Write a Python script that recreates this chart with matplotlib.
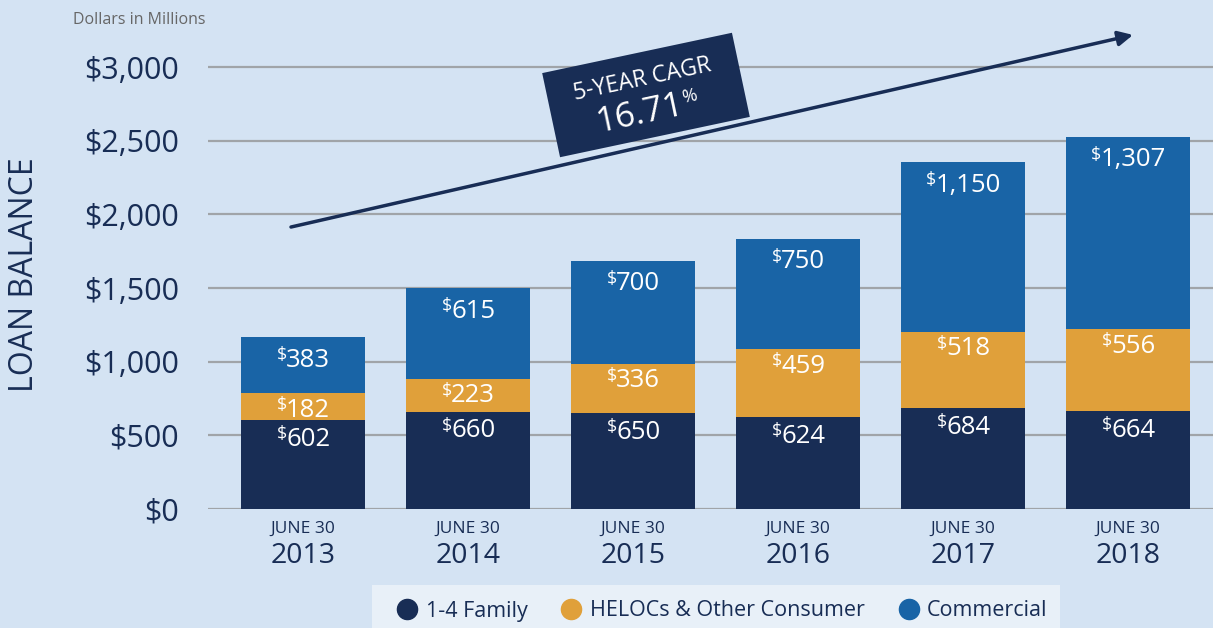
import matplotlib
matplotlib.use('Agg')
import matplotlib.pyplot as plt
from matplotlib.patches import Rectangle
from matplotlib.lines import Line2D
from matplotlib.transforms import Affine2D, IdentityTransform
import numpy as np

years = ['2013', '2014', '2015', '2016', '2017', '2018']
family = [602, 660, 650, 624, 684, 664]
helocs = [182, 223, 336, 459, 518, 556]
commercial = [383, 615, 700, 750, 1150, 1307]
yticks = [0, 500, 1000, 1500, 2000, 2500, 3000]
cagr = '16.71'

NAVY = '#182d55'
GOLD = '#e0a03a'
BLUE = '#1964a6'
BG = '#d4e3f3'

plt.rcParams['font.family'] = ['Open Sans', 'DejaVu Sans']

W, H = 1213, 628
fig = plt.figure(figsize=(W / 100, H / 100), dpi=100, facecolor=BG)
ax = fig.add_axes([208 / W, 119 / H, 1 - 208 / W, 1 - 119 / H])
ax.set_facecolor(BG)

x = np.arange(len(years))
ax.bar(x, family, width=0.75, color=NAVY, zorder=3)
ax.bar(x, helocs, width=0.75, bottom=family, color=GOLD, zorder=3)
bottom3 = np.array(family) + np.array(helocs)
ax.bar(x, commercial, width=0.75, bottom=bottom3, color=BLUE, zorder=3)

ax.set_xlim(-0.576, 5.515)
ax.set_ylim(0, 3455)
ax.set_yticks(yticks)
ax.set_yticklabels(['${:,}'.format(v) for v in yticks], fontsize=22, color=NAVY)
ax.tick_params(axis='y', length=0, pad=21)
ax.set_xticks([])
for s in ax.spines.values():
    s.set_visible(False)
ax.grid(axis='y', color='#a0a4a8', lw=1.6, zorder=0)

# x labels
for i, yr in enumerate(years):
    ax.annotate('JUNE 30', (i, 0), xycoords=('data', 'axes fraction'), xytext=(0, -20),
                textcoords='offset pixels', ha='center', va='center', fontsize=12.5, color=NAVY)
    ax.annotate(yr, (i, 0), xycoords=('data', 'axes fraction'), xytext=(0, -47),
                textcoords='offset pixels', ha='center', va='center', fontsize=20.5, color=NAVY)

# value labels with superscript $
renderer = fig.canvas.get_renderer()


def money(xi, top, val, dy):
    num = '{:,}'.format(val)
    t = ax.annotate(num, (xi, top), xytext=(0, dy), textcoords='offset pixels',
                    ha='center', va='center', fontsize=18.5, color='white', zorder=5)
    wn = t.get_window_extent(renderer).width
    d = ax.annotate('$', (xi, top), xytext=(0, dy + 5), textcoords='offset pixels',
                    ha='right', va='center', fontsize=13, color='white', zorder=5)
    wd = d.get_window_extent(renderer).width
    t.xyann = (wd / 2, dy)
    d.xyann = (wd / 2 - wn / 2 + 1, dy + 5)


for i in x:
    money(i, family[i], family[i], -19)
    money(i, family[i] + helocs[i], helocs[i], -17)
    money(i, bottom3[i] + commercial[i], commercial[i], -23)

fig.text(25 / W, (H - 275) / H, 'LOAN BALANCE', fontsize=23, color=NAVY,
         rotation=90, ha='center', va='center')

fig.text(73 / W, 1 - 20 / H, 'Dollars in Millions', fontsize=11.5, color='#666666',
         ha='left', va='center')

# trend arrow
ax.annotate('', xy=(5.03, 3218), xytext=(-0.073, 1914),
            arrowprops=dict(arrowstyle='-|>', color=NAVY, lw=2.5, mutation_scale=22,
                            shrinkA=0, shrinkB=0), annotation_clip=False, zorder=4)

# CAGR box (pixel coords)
cx, cy, ang = 646, H - 95, 12
rot = Affine2D().rotate_deg_around(cx, cy, ang)
box = Rectangle((cx - 97, cy - 43), 194, 86, facecolor=NAVY, edgecolor='none',
                transform=rot + IdentityTransform(), zorder=6)
fig.patches.append(box)


def rpos(u, v):
    a = np.deg2rad(ang)
    return (cx + u * np.cos(a) - v * np.sin(a), cy + u * np.sin(a) + v * np.cos(a))


for txt, u, v, fs in [('5-YEAR CAGR', 0, 16, 16.5), (cagr, -9, -17, 25), ('%', 42, -11, 13)]:
    px, py = rpos(u, v)
    fig.text(px / W, py / H, txt, fontsize=fs, color='white', rotation=ang,
             rotation_mode='anchor', ha='center', va='center', zorder=7)

# legend
fig.patches.append(Rectangle((372 / W, 0), 688 / W, 43 / H, facecolor='#e8f0f8',
                             edgecolor='none', transform=fig.transFigure, zorder=1))
handles = [Line2D([], [], ls='', marker='o', markersize=14.5, color=c) for c in (NAVY, GOLD, BLUE)]
fig.legend(handles, ['1-4 Family', 'HELOCs & Other Consumer', 'Commercial'],
           loc='center', bbox_to_anchor=(722 / W, 17 / H), ncol=3, frameon=False,
           fontsize=15.5, labelcolor=NAVY, handlelength=1.0, handletextpad=0.35,
           columnspacing=1.55, borderpad=0)

fig.savefig('out.png', dpi=100, facecolor=BG)
